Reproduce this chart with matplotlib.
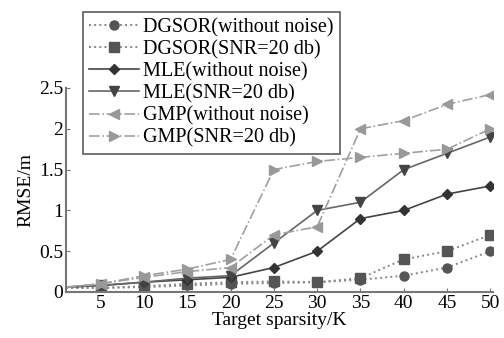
import numpy as np
import matplotlib.pyplot as plt

plt.rcParams['font.family'] = ['Liberation Serif', 'DejaVu Serif']

# target sparsity K (first point sits on the axis, no marker)
k = [1, 5, 10, 15, 20, 25, 30, 35, 40, 45, 50]

dgsor_clean = [0.05, 0.05, 0.06, 0.08, 0.10, 0.11, 0.12, 0.15, 0.20, 0.30, 0.50]
dgsor_snr = [0.05, 0.05, 0.07, 0.10, 0.12, 0.13, 0.12, 0.17, 0.40, 0.50, 0.70]
mle_clean = [0.06, 0.08, 0.12, 0.15, 0.18, 0.30, 0.50, 0.90, 1.00, 1.20, 1.30]
mle_snr = [0.06, 0.08, 0.12, 0.17, 0.20, 0.60, 1.00, 1.10, 1.50, 1.70, 1.90]
gmp_clean = [0.06, 0.10, 0.18, 0.25, 0.30, 0.70, 0.80, 2.00, 2.10, 2.30, 2.42]
gmp_snr = [0.06, 0.10, 0.20, 0.28, 0.40, 1.50, 1.60, 1.65, 1.70, 1.75, 2.00]

labels = ['DGSOR(without noise)', 'DGSOR(SNR=20 db)', 'MLE(without noise)',
          'MLE(SNR=20 db)', 'GMP(without noise)', 'GMP(SNR=20 db)']

fig = plt.figure(figsize=(5.04, 3.38), dpi=100)
ax = fig.add_axes([66/504, 1 - 292/338, (493 - 66)/504, (292 - 88)/338])

me = range(1, len(k))
ax.plot(k, dgsor_clean, ':', color='#888888', marker='o', mfc='#555555', mec='#555555', ms=6.5, lw=1.4, markevery=me, label=labels[0])
ax.plot(k, dgsor_snr, ':', color='#888888', marker='s', mfc='#555555', mec='#555555', ms=6.5, lw=1.4, markevery=me, label=labels[1])
ax.plot(k, mle_clean, '-', color='#444444', marker='D', mfc='#333333', mec='#333333', ms=5.5, lw=1.2, markevery=me, label=labels[2])
ax.plot(k, mle_snr, '-', color='#666666', marker='v', mfc='#444444', mec='#444444', ms=7.5, lw=1.2, markevery=me, label=labels[3])
ax.plot(k, gmp_clean, '-.', color='#a0a0a0', marker='<', mfc='#999999', mec='#999999', ms=7.5, lw=1.2, markevery=me, label=labels[4])
ax.plot(k, gmp_snr, '-.', color='#a0a0a0', marker='>', mfc='#999999', mec='#999999', ms=7.5, lw=1.2, markevery=me, label=labels[5])

ax.set_xlim(1, 50.3)
ax.set_ylim(0, 2.5)
ax.set_xticks([5, 10, 15, 20, 25, 30, 35, 40, 45, 50])
ax.set_yticks([0, 0.5, 1, 1.5, 2, 2.5])
ax.set_yticklabels(['0', '0.5', '1', '1.5', '2', '2.5'])
ax.spines['top'].set_visible(False)
ax.spines['right'].set_visible(False)
for s in ('left', 'bottom'):
    ax.spines[s].set_linewidth(1.5)
    ax.spines[s].set_color('#777777')
ax.tick_params(direction='in', length=3, labelsize=14, colors='#777777', labelcolor='black', pad=2)
ax.set_xlabel('Target sparsity/K', fontsize=14, labelpad=0)
ax.set_ylabel('RMSE/m', fontsize=14, labelpad=3)

leg = ax.legend(loc='upper left', bbox_to_anchor=(83/504, 1 - 12/338), bbox_transform=fig.transFigure,
                fontsize=14.5, frameon=True, fancybox=False, handlelength=2.5, handletextpad=0.2,
                labelspacing=0.14, borderpad=0.3, borderaxespad=0)
leg.get_frame().set_edgecolor('#333333')
leg.get_frame().set_linewidth(1.2)

fig.savefig('out.png', dpi=100)
